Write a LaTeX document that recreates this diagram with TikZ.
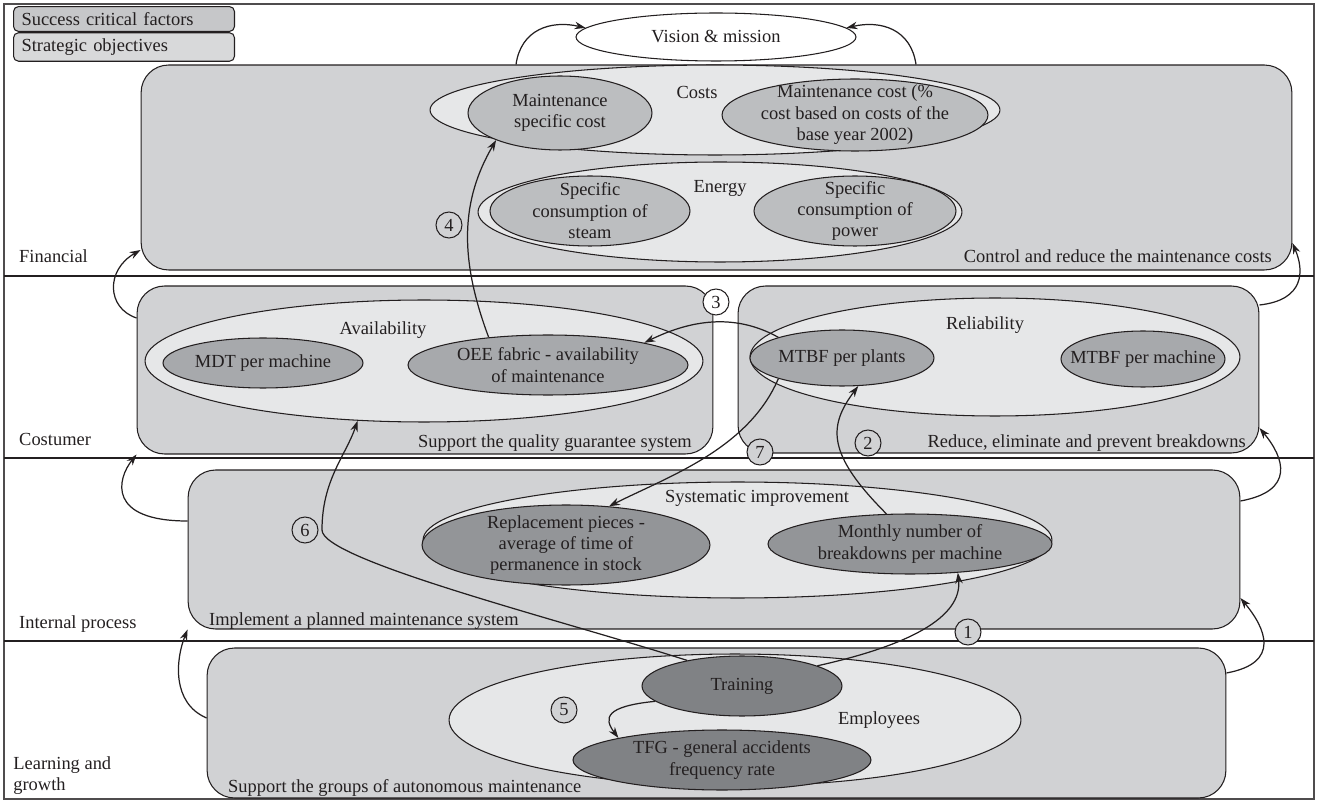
\documentclass[tikz,border=0pt]{standalone}
\usepackage{fontspec}
\setmainfont{Liberation Serif}
\usetikzlibrary{arrows.meta, shapes.geometric}
\definecolor{inkblack}{HTML}{231F20}
\definecolor{boxgray}{HTML}{D1D2D4}
\definecolor{groupgray}{HTML}{E6E7E8}
\definecolor{finkpi}{HTML}{BCBEC0}
\definecolor{cuskpi}{HTML}{A7A9AC}
\definecolor{intkpi}{HTML}{939598}
\definecolor{lrnkpi}{HTML}{808285}
\definecolor{legenddark}{HTML}{C6C7C9}
\definecolor{legendlight}{HTML}{D8D9DA}

\begin{document}
\begin{tikzpicture}[x=0.02cm, y=-0.02cm, >={Stealth[length=2.2mm, width=1.5mm]},
    font=\fontsize{10.5}{12.2}\selectfont, text=inkblack,
    dims/.style 2 args={minimum width=#1*0.2mm, minimum height=#2*0.2mm},
    box/.style={draw=inkblack, fill=boxgray, rounded corners=5.5mm, line width=0.6pt, inner sep=0pt},
    group/.style={ellipse, draw=inkblack, fill=groupgray, line width=0.6pt, inner sep=0pt},
    kpi/.style={ellipse, draw=inkblack, line width=0.6pt, inner sep=-4mm, align=center},
    legend/.style={draw=inkblack, rounded corners=1mm, line width=0.6pt, anchor=west,
        text width=41mm, align=left, inner xsep=1.6mm, minimum height=4mm},
    num/.style={circle, draw=inkblack, fill=boxgray, line width=0.6pt, minimum size=5.2mm, inner sep=0pt},
    link/.style={->, line width=0.7pt, draw=inkblack},
    sep/.style={line width=1.2pt, draw=inkblack}]
    \useasboundingbox (0,0) rectangle (1319,800);

    % Frame and perspective rows
    \draw[line width=0.8pt, draw=inkblack!80] (4,4) rectangle (1314,799);
    \foreach \y in {276,458,641}
        \draw[sep] (4,\y) -- (1314,\y);
    \node[anchor=base west] (lfin) at (13,263) {Financial};
    \node[anchor=base west] (lcus) at (13,446) {Costumer};
    \node[anchor=base west] (lint) at (13,628) {Internal process};
    \node[anchor=south west, align=left, inner sep=0pt] (llrn) at (13,795) {Learning and\\growth};

    % Legend
    \node[legend, fill=legenddark] (kscf) at (13,19) {Success critical factors};
    \node[legend, fill=legendlight] (kso) at (13,47) {Strategic objectives};

    % Vision
    \node[kpi, fill=white, dims={280}{48}] (vis) at (716,37) {Vision \& mission};

    % Financial
    \node[box, dims={1151}{205}] (fin) at (716.5,167.5) {};
    \node[group, dims={570}{90}] (costs) at (715,110) {};
    \node (tcosts) at (697,92) {Costs};
    \node[kpi, fill=finkpi, dims={184}{74}] (msc) at (560,113) {Maintenance\\specific cost};
    \node[kpi, fill=finkpi, dims={266}{72}] (mco) at (855,115) {Maintenance cost (\%\\cost based on costs of the\\base year 2002)};
    \node[group, dims={484}{100}] (energy) at (720,212) {};
    \node (tenergy) at (720,188) {Energy};
    \node[kpi, fill=finkpi, dims={200}{70}] (stm) at (590,211) {Specific\\consumption of\\steam};
    \node[kpi, fill=finkpi, dims={202}{70}] (pwr) at (855,211) {Specific\\consumption of\\power};
    \node[anchor=base east] (ofin) at (1278,263) {Control and reduce the maintenance costs};

    % Costumer
    \node[box, dims={576}{168}] (avl) at (425,370) {};
    \node[box, dims={521}{167}] (rel) at (998.5,369.5) {};
    \node[group, dims={558}{122}] (avail) at (424,361) {};
    \node (tavail) at (383,330) {Availability};
    \node[kpi, fill=cuskpi, dims={200}{50}] (mdt) at (263,363) {MDT per machine};
    \node[kpi, fill=cuskpi, dims={280}{60}] (oee) at (548,365) {OEE fabric - availability\\of maintenance};
    \node[group, dims={490}{118}] (relia) at (995,357) {};
    \node (trelia) at (985,325) {Reliability};
    \node[kpi, fill=cuskpi, dims={184}{56}] (mtp) at (842,358) {MTBF per plants};
    \node[kpi, fill=cuskpi, dims={164}{56}] (mtm) at (1143,359) {MTBF per machine};
    \node[anchor=base east] (oavl) at (698,448) {Support the quality guarantee system};
    \node[anchor=base east] (orel) at (1252,448) {Reduce, eliminate and prevent breakdowns};

    % Internal process
    \node[box, dims={1052}{159}] (int) at (714,549.5) {};
    \node[group, dims={629}{116}] (sysimp) at (737.5,540) {};
    \node (tsysimp) at (757,498) {Systematic improvement};
    \node[kpi, fill=intkpi, dims={288}{80}] (rep) at (566,545) {Replacement pieces -\\average of time of\\permanence in stock};
    \node[kpi, fill=intkpi, dims={284}{60}] (mon) at (910,544) {Monthly number of\\breakdowns per machine};
    \node[anchor=base west] (oint) at (203,625) {Implement a planned maintenance system};

    % Learning and growth
    \node[box, dims={1019}{150}] (lrn) at (716.5,723) {};
    \node[group, dims={572}{132}] (emp) at (735,720) {};
    \node (temp) at (879,720) {Employees};
    \node[kpi, fill=lrnkpi, dims={200}{60}] (trn) at (742,686) {Training};
    \node[kpi, fill=lrnkpi, dims={298}{60}] (tfg) at (722,760) {TFG - general accidents\\frequency rate};
    \node[anchor=base west] (olrn) at (222,792) {Support the groups of autonomous maintenance};

    % Links between perspectives
    \draw[link] (fin.north -| 516,0) .. controls +(5,-35) and +(-35,-8) .. (vis.176);
    \draw[link] (fin.north -| 916,0) .. controls +(-5,-35) and +(35,-8) .. (vis.4);
    \draw[link] (avl.west |- 0,318) .. controls +(-30,-10) and +(-35,20) .. (fin.west |- 0,250);
    \draw[link] (int.west |- 0,521) .. controls +(-80,0) and +(-20,25) .. (avl.south west);
    \draw[link] (lrn.west |- 0,718) .. controls +(-35,-15) and +(-12,30) .. (int.south west);
    \draw[link] (rel.east |- 0,305) .. controls +(45,-5) and +(12,28) .. (fin.east |- 0,243);
    \draw[link] (int.east |- 0,501) .. controls +(55,-10) and +(25,30) .. (rel.east |- 0,428);
    \draw[link] (lrn.east |- 0,673) .. controls +(55,-10) and +(25,30) .. (int.east |- 0,598);

    % Cause and effect links
    \draw[link] (trn.15) .. controls +(90,-20) and +(5,45) .. (mon.329);
    \draw[link] (mon.128) .. controls +(-60,-60) and +(-30,40) .. (mtp.300);
    \draw[link] (mtp.162) .. controls +(-45,-25) and +(45,-22) .. (oee.13);
    \draw[link] (oee.155) .. controls +(-30,-80) and +(-35,60) .. (msc.203);
    \draw[link] (trn.190) .. controls +(-50,5) and +(-15,-20) .. (tfg.168);
    \draw[link] (trn.155) .. controls +(-128,-41) and +(0,30) .. (322,530)
        .. controls +(0,-50) and +(-12,35) .. (avail.222);
    \draw[link] (mtp.198) .. controls +(-30,70) and +(60,-30) .. (rep.42);

    % Link numbers
    \node[num] (n1) at (968,632) {1};
    \node[num] (n2) at (868,443) {2};
    \node[num, fill=white] (n3) at (716,302) {3};
    \node[num] (n4) at (449,225) {4};
    \node[num] (n5) at (564,710) {5};
    \node[num] (n6) at (305,530) {6};
    \node[num] (n7) at (760,452) {7};
\end{tikzpicture}
\end{document}
